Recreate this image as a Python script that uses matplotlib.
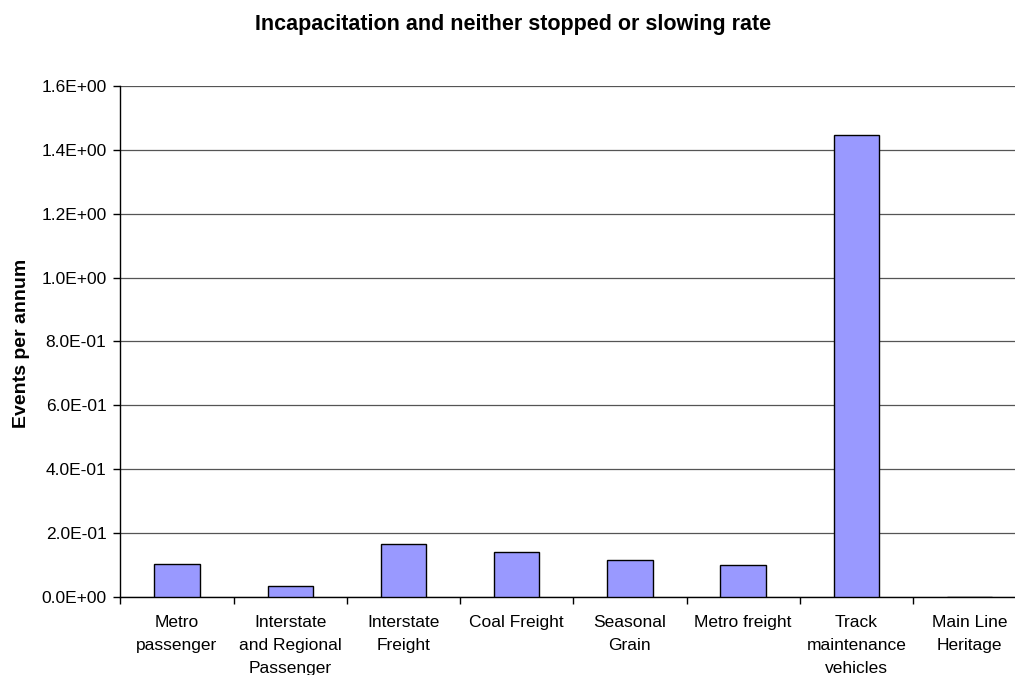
import numpy as np
import matplotlib
matplotlib.use("Agg")
import matplotlib.pyplot as plt
from matplotlib.ticker import FixedLocator, FuncFormatter

categories = ["Metro\npassenger", "Interstate\nand Regional\nPassenger", "Interstate\nFreight",
              "Coal Freight", "Seasonal\nGrain", "Metro freight",
              "Track\nmaintenance\nvehicles", "Main Line\nHeritage"]
rates = [0.103, 0.035, 0.167, 0.141, 0.115, 0.099, 1.446, 0.0]
yticks = [0.0, 0.2, 0.4, 0.6, 0.8, 1.0, 1.2, 1.4, 1.6]

plt.rcParams["font.family"] = ["Liberation Sans", "DejaVu Sans"]

fig = plt.figure(figsize=(10.15, 6.75), dpi=100)
# plot area runs past the right edge of the figure
ax = fig.add_axes([0.1185, 0.1156, 0.8926, 0.757])

x = np.arange(len(categories))
ax.bar(x, rates, width=0.4, color="#9999ff", edgecolor="black", linewidth=1.0, zorder=3)

ax.set_xlim(-0.5, len(categories) - 0.5)
ax.set_ylim(0, 1.6)
ax.set_yticks(yticks)
ax.yaxis.set_major_formatter(FuncFormatter(lambda v, p: "%.1E" % v))
ax.grid(axis="y", color="#555555", linewidth=0.9, zorder=0)

ax.set_xticks(x)
ax.set_xticklabels(categories, linespacing=1.65, fontsize=12.5)
ax.xaxis.set_minor_locator(FixedLocator(np.arange(len(categories) + 1) - 0.5))
ax.tick_params(axis="x", which="major", length=0, pad=13)
ax.tick_params(axis="x", which="minor", length=5, width=1, color="black")
ax.tick_params(axis="y", length=5, width=1, labelsize=12.5, pad=5)

for side in ["top", "right"]:
    ax.spines[side].set_visible(False)
ax.spines["left"].set_color("black")
ax.spines["bottom"].set_color("black")
ax.spines["left"].set_linewidth(1.0)
ax.spines["bottom"].set_linewidth(1.0)

ax.set_ylabel("Events per annum", fontsize=14, fontweight="bold")
ax.yaxis.set_label_coords(-0.1, 0.497)
fig.text(0.5054, 1 - 30 / 675, "Incapacitation and neither stopped or slowing rate",
         ha="center", va="baseline", fontsize=15.5, fontweight="bold")

fig.savefig("out.png", dpi=100)
